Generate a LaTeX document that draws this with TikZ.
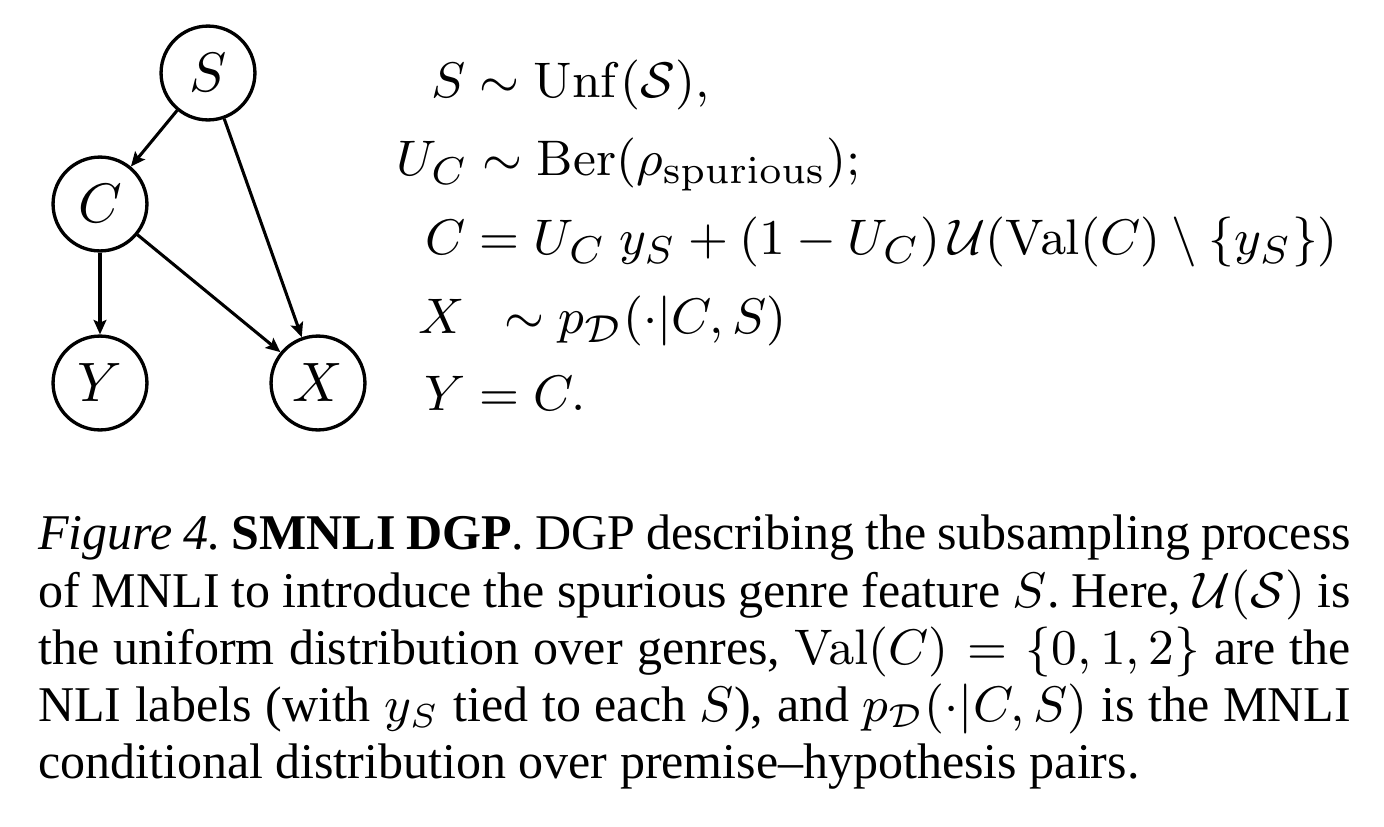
\documentclass[tikz,border=0pt]{standalone}
\usepackage[no-math]{fontspec}
\setmainfont{Liberation Serif}
\usetikzlibrary{arrows.meta}
\frenchspacing
\tikzset{
  varnode/.style={circle, draw, line width=0.6pt, minimum size=16.9pt, inner sep=0pt, font=\fontsize{9.7}{11}\selectfont},
  arcline/.style={line width=0.55pt, -{Stealth[length=2.6pt, width=2.3pt, inset=0.5pt]}},
  eqline/.style={anchor=base west, inner sep=0pt, font=\fontsize{9.35}{11}\selectfont},
  captext/.style={anchor=north west, inner sep=0pt, align=justify, text width=236.3pt, font=\fontsize{9}{10.3}\selectfont}
}
\begin{document}
\begin{tikzpicture}[x=0.18pt, y=-0.18pt]
\useasboundingbox (0,0) rectangle (1384,826);
% graph
\node[varnode] (S) at (208,73) {$S$};
\node[varnode] (C) at (100,204) {$C$};
\node[varnode] (Y) at (100,383) {$Y$};
\node[varnode] (X) at (318,383) {$X$};
\draw[arcline] (S) -- (C);
\draw[arcline] (S) -- (X);
\draw[arcline] (C) -- (Y);
\draw[arcline] (C) -- (X);
% equations
\node[eqline] (e1) at (430,97) {$S \sim \mathrm{Unf}(\mathcal{S}),$};
\node[eqline] (e2) at (395,175) {$U_C \sim \mathrm{Ber}(\rho_{\mathrm{spurious}});$};
\node[eqline] (e3) at (424,254) {$C = U_C\ y_S + (1 - U_C)\,\mathcal{U}(\mathrm{Val}(C) \setminus \{y_S\})$};
\node[eqline] (e4) at (417,333) {$X\ \ \sim p_{\mathcal{D}}(\cdot|C,S)$};
\node[eqline] (e5) at (423,410) {$Y = C.$};
% caption
\node[captext] (caption) at (37,514) {\textit{Figure 4.} \textbf{SMNLI DGP}. DGP describing the subsampling process\linebreak
of MNLI to introduce the spurious genre feature $S$. Here, $\mathcal{U}(\mathcal{S})$ is\linebreak
the uniform distribution over genres, $\mathrm{Val}(C) = \{0,1,2\}$ are the\linebreak
NLI labels (with $y_S$ tied to each $S$), and $p_{\mathcal{D}}(\cdot|C,S)$ is the MNLI\linebreak
conditional distribution over premise--hypothesis pairs.};
\end{tikzpicture}
\end{document}
